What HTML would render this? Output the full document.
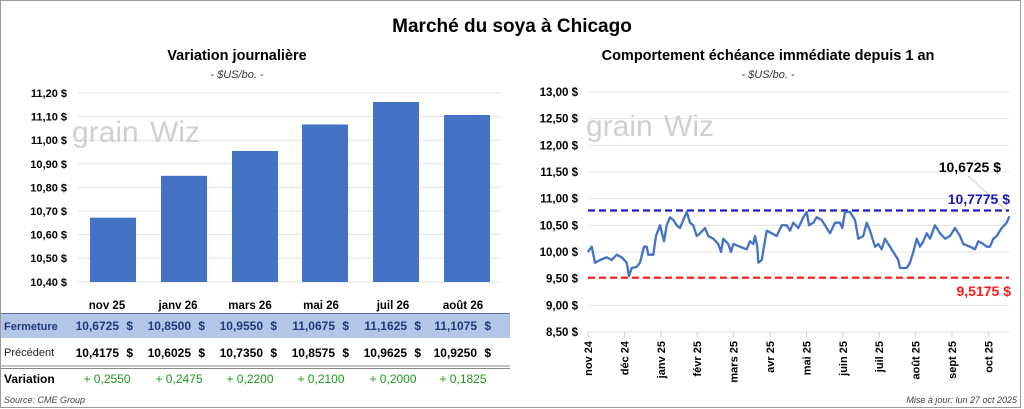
<!DOCTYPE html>
<html><head><meta charset="utf-8"><style>
html,body{margin:0;padding:0;background:#fff}
svg{display:block;font-family:"Liberation Sans",sans-serif}
</style></head><body>
<svg id="s" width="1024" height="409" viewBox="0 0 1024 409" xmlns="http://www.w3.org/2000/svg">
<rect x="0.5" y="0.5" width="1020" height="407" fill="#fff" stroke="#9a9a9a"/>
<text x="512" y="32" font-size="19" font-weight="bold" text-anchor="middle">Marché du soya à Chicago</text>
<!-- left chart -->
<text x="237" y="60" font-size="14.5" font-weight="bold" text-anchor="middle">Variation  journalière</text>
<text x="237" y="78" font-size="11" font-style="italic" text-anchor="middle" fill="#333">- $US/bo. -</text>
<g stroke="#e3e3e3" stroke-width="1">
<line x1="78" x2="501" y1="93" y2="93"/><line x1="78" x2="501" y1="116.6" y2="116.6"/><line x1="78" x2="501" y1="140.2" y2="140.2"/><line x1="78" x2="501" y1="163.8" y2="163.8"/><line x1="78" x2="501" y1="187.4" y2="187.4"/><line x1="78" x2="501" y1="211" y2="211"/><line x1="78" x2="501" y1="234.6" y2="234.6"/><line x1="78" x2="501" y1="258.2" y2="258.2"/><line x1="78" x2="501" y1="282" y2="282"/>
</g>
<g font-size="11" font-weight="bold" text-anchor="end">
<text x="67" y="97">11,20 $</text><text x="67" y="120.6">11,10 $</text><text x="67" y="144.2">11,00 $</text><text x="67" y="167.8">10,90 $</text><text x="67" y="191.4">10,80 $</text><text x="67" y="215">10,70 $</text><text x="67" y="238.6">10,60 $</text><text x="67" y="262.2">10,50 $</text><text x="67" y="286">10,40 $</text>
</g>
<text x="72" y="142" font-size="30" fill="#d0d0d0">grain</text>
<text x="150" y="142" font-size="30" fill="#d0d0d0">Wiz</text>
<g fill="#4472c4">
<rect x="90" y="217.7" width="46" height="64.3"/>
<rect x="161" y="175.8" width="46" height="106.2"/>
<rect x="232" y="151" width="46" height="131"/>
<rect x="302" y="124.5" width="46" height="157.5"/>
<rect x="373" y="102" width="46" height="180"/>
<rect x="444" y="115" width="46" height="167"/>
</g>
<!-- table -->
<g font-size="11.5" font-weight="bold" text-anchor="middle">
<text x="107" y="309">nov 25</text><text x="178" y="309">janv 26</text><text x="250" y="309">mars 26</text><text x="321" y="309">mai 26</text><text x="393" y="309">juil 26</text><text x="463" y="309">août 26</text>
</g>
<rect x="1" y="313" width="509" height="25" fill="#b4c6e7"/>
<line x1="1" y1="313.5" x2="510" y2="313.5" stroke="#5b6f94" stroke-width="1"/>
<line x1="1" y1="366" x2="510" y2="366" stroke="#888" stroke-width="1"/>
<line x1="1" y1="368.5" x2="510" y2="368.5" stroke="#888" stroke-width="1"/>
<text x="4" y="330" font-size="11" font-weight="bold" fill="#1f3a7a">Fermeture</text>
<text x="4" y="356" font-size="11" fill="#222">Précédent</text>
<text x="4" y="383" font-size="12" font-weight="bold">Variation</text>
<text x="4" y="403" font-size="9" font-style="italic" fill="#444">Source: CME Group</text>
<g font-size="12" font-weight="bold" text-anchor="end" fill="#1f3a7a">
<text x="119" y="330">10,6725</text><text x="133" y="330">$</text>
<text x="191" y="330">10,8500</text><text x="205" y="330">$</text>
<text x="263" y="330">10,9550</text><text x="277" y="330">$</text>
<text x="335" y="330">11,0675</text><text x="349" y="330">$</text>
<text x="407" y="330">11,1625</text><text x="421" y="330">$</text>
<text x="477" y="330">11,1075</text><text x="491" y="330">$</text>
</g>
<g font-size="12" font-weight="bold" text-anchor="end">
<text x="119" y="357">10,4175</text><text x="133" y="357">$</text>
<text x="191" y="357">10,6025</text><text x="205" y="357">$</text>
<text x="263" y="357">10,7350</text><text x="277" y="357">$</text>
<text x="335" y="357">10,8575</text><text x="349" y="357">$</text>
<text x="407" y="357">10,9625</text><text x="421" y="357">$</text>
<text x="477" y="357">10,9250</text><text x="491" y="357">$</text>
</g>
<g font-size="12" text-anchor="middle" fill="#1a9a1a">
<text x="107" y="383">+ 0,2550</text><text x="179" y="383">+ 0,2475</text><text x="250" y="383">+ 0,2200</text><text x="321" y="383">+ 0,2100</text><text x="393" y="383">+ 0,2000</text><text x="463" y="383">+ 0,1825</text>
</g>
<!-- right chart -->
<text x="768" y="60" font-size="14.5" font-weight="bold" text-anchor="middle">Comportement échéance immédiate depuis 1 an</text>
<text x="768" y="78" font-size="11" font-style="italic" text-anchor="middle" fill="#333">- $US/bo. -</text>
<g id="rg" stroke="#e3e3e3" stroke-width="1"></g>
<g id="ry" font-size="11.5" font-weight="bold" text-anchor="end"></g>
<text x="586" y="136" font-size="30" fill="#d0d0d0">grain</text>
<text x="664" y="136" font-size="30" fill="#d0d0d0">Wiz</text>
<g id="rx" font-size="11" font-weight="bold" text-anchor="end"></g>
<line x1="588" y1="210.5" x2="1009" y2="210.5" stroke="#1a1ac8" stroke-width="2.2" stroke-dasharray="7,4"/>
<line x1="588" y1="277.7" x2="1009" y2="277.7" stroke="#ff1a1a" stroke-width="2.2" stroke-dasharray="7,4"/>
<polyline id="pl" fill="none" stroke="#4472c4" stroke-width="2.3" stroke-linejoin="round"/>
<line x1="968" y1="176" x2="1006" y2="210" stroke="#bbb" stroke-width="0.8"/>
<text x="1001" y="172" font-size="14" font-weight="bold" text-anchor="end">10,6725 $</text>
<text x="1010" y="204" font-size="14" font-weight="bold" text-anchor="end" fill="#1a1ab4">10,7775 $</text>
<text x="1011" y="296" font-size="14" font-weight="bold" text-anchor="end" fill="#ff1a1a">9,5175 $</text>
<text x="1017" y="403" font-size="9" font-style="italic" text-anchor="end" fill="#444">Mise à jour: lun 27 oct 2025</text>
</svg>
<script>
var NS="http://www.w3.org/2000/svg";
function el(p,t,a,txt){var e=document.createElementNS(NS,t);for(var k in a)e.setAttribute(k,a[k]);if(txt!=null)e.textContent=txt;document.getElementById(p).appendChild(e);return e;}
for(var i=0;i<=9;i++){var v=13-i*0.5,y=92+i*26.67;el("rg","line",{x1:588,x2:1009,y1:y,y2:y});el("ry","text",{x:578,y:y+4},v.toFixed(2).replace(".",",")+" $");}
var mo=["nov 24","déc 24","janv 25","févr 25","mars 25","avr 25","mai 25","juin 25","juil 25","août 25","sept 25","oct 25"];
for(var i=0;i<12;i++){var x=588+i*36.4;el("rg","line",{x1:x,x2:x,y1:332,y2:337,stroke:"#ccc"});el("rx","text",{transform:"translate("+(x+4)+",341) rotate(-90)"},mo[i]);}
var d=[203,10.0,215,10.1,225,9.8,240,9.85,260,9.9,275,9.85,290,9.95,305,9.9,320,9.8,327,9.55,335,9.7,350,9.72,360,9.8,372,10.1,380,10.1,385,9.95,400,9.95,408,10.3,420,10.5,432,10.2,440,10.5,450,10.65,460,10.6,470,10.5,480,10.45,490,10.6,500,10.75,510,10.55,520,10.5,530,10.3,540,10.35,555,10.45,565,10.3,580,10.25,595,10.15,603,10.0,610,10.25,625,10.15,633,10.0,640,10.15,660,10.1,680,10.05,690,10.2,700,10.15,705,10.3,712,10.1,715,9.8,725,9.85,740,10.4,755,10.35,770,10.3,785,10.5,800,10.5,810,10.4,820,10.55,835,10.45,850,10.65,860,10.75,867,10.5,880,10.55,890,10.65,905,10.6,920,10.45,930,10.35,945,10.55,960,10.55,967,10.45,975,10.75,990,10.75,1005,10.6,1015,10.25,1030,10.3,1040,10.55,1050,10.4,1065,10.1,1075,10.15,1085,10.05,1095,10.25,1105,10.15,1120,10.0,1135,9.85,1140,9.7,1160,9.7,1170,9.8,1180,10.0,1190,10.25,1200,10.1,1210,10.2,1220,10.35,1230,10.25,1245,10.5,1260,10.35,1275,10.25,1290,10.3,1305,10.45,1320,10.3,1330,10.15,1350,10.1,1365,10.05,1375,10.2,1390,10.15,1400,10.1,1410,10.1,1420,10.25,1430,10.3,1445,10.45,1460,10.55,1468,10.67];
var pts=[];for(var i=0;i<d.length;i+=2){pts.push((520+d[i]/3).toFixed(1)+","+(92+(13-d[i+1])*53.33).toFixed(1));}
document.getElementById("pl").setAttribute("points",pts.join(" "));
</script>
</body></html>
